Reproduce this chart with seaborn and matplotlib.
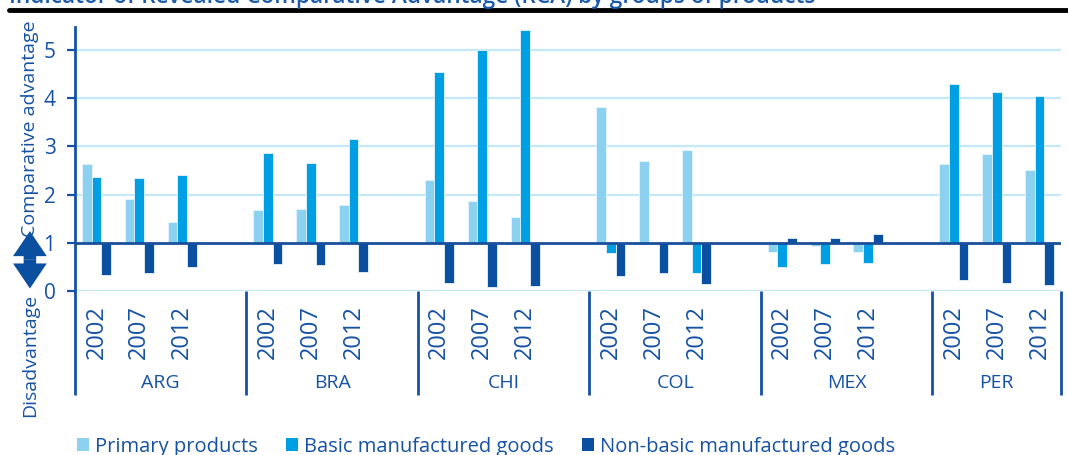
import numpy as np
import pandas as pd
import matplotlib
matplotlib.use("Agg")
import matplotlib.pyplot as plt
import seaborn as sns
from matplotlib.lines import Line2D
from matplotlib.patches import Patch, FancyArrowPatch
from matplotlib.transforms import blended_transform_factory

countries = ["ARG", "BRA", "CHI", "COL", "MEX", "PER"]
years = ["2002", "2007", "2012"]
products = ["Primary products", "Basic manufactured goods", "Non-basic manufactured goods"]

# RCA values, one list per product, ordered country by country, year by year
primary = [2.64, 1.91, 1.44,  1.69, 1.70, 1.78,  2.30, 1.86, 1.54,
           3.82, 2.70, 2.92,  0.81, 0.94, 0.80,  2.64, 2.84, 2.52]
basic = [2.36, 2.34, 2.40,  2.86, 2.66, 3.15,  4.54, 5.00, 5.41,
         0.78, 1.00, 0.38,  0.49, 0.56, 0.58,  4.30, 4.13, 4.04]
nonbasic = [0.34, 0.38, 0.49,  0.56, 0.54, 0.40,  0.16, 0.09, 0.11,
            0.31, 0.38, 0.15,  1.11, 1.11, 1.19,  0.22, 0.16, 0.13]

colors = ["#8dd1f1", "#009fe3", "#0a4fa0"]
blue = "#1652a3"

title = "Indicator of Revealed Comparative Advantage (RCA) by groups of products"

# long table; bars start at the neutral value 1
rows = []
for series, vals in zip(products, [primary, basic, nonbasic]):
    k = 0
    for c in countries:
        for y in years:
            rows.append({"slot": f"{c} {y}", "product": series, "rca": vals[k]})
            k += 1
df = pd.DataFrame(rows)
df["rel"] = df["rca"] - 1

# category order with one empty slot after each country (except the last)
order = []
for i, c in enumerate(countries):
    order += [f"{c} {y}" for y in years]
    if i < len(countries) - 1:
        order.append(" " * (i + 1))

sns.set_theme(style="white")
plt.rcParams["font.family"] = ["Open Sans", "DejaVu Sans"]

fig = plt.figure(figsize=(10.68, 4.55), dpi=100)
ax = fig.add_axes([0.0702, 0.3604, 0.9232, 0.5802])

sns.barplot(data=df, x="slot", y="rel", hue="product", order=order,
            hue_order=products, palette=colors, width=0.68, bottom=1,
            saturation=1, linewidth=0.6, edgecolor="#e6f5fc", legend=False, ax=ax)

ax.set_ylim(0, 5.48)
ax.set_xlim(-0.5, len(order) - 0.5)
ax.set_yticks(range(6))
ax.set_yticklabels([str(v) for v in range(6)])
for v in [0, 2, 3, 4, 5]:
    ax.axhline(v, color="#c4e8f8", lw=1.6, zorder=0)
ax.axhline(1, color="#1a4f9c", lw=2.0, zorder=3)

ax.set_xticks(range(len(order)))
ax.set_xticklabels([s.split(" ")[1] if s.strip() else "" for s in order],
                   rotation=90, fontsize=17, color=blue)
ax.tick_params(axis="x", length=0, pad=10)
ax.tick_params(axis="y", length=6, width=1.6, color=blue, pad=8,
               labelsize=15, labelcolor=blue, direction="out", left=True)
ax.set_xlabel("")
ax.set_ylabel("")

for s in ["top", "right", "bottom"]:
    ax.spines[s].set_visible(False)
ax.spines["left"].set_color(blue)
ax.spines["left"].set_linewidth(2)

# country separators and labels below the axis
tr = blended_transform_factory(ax.transData, ax.transAxes)
for xs in [-0.5, 3.5, 7.5, 11.5, 15.5, 19.5, 22.5]:
    ax.plot([xs, xs], [0, -0.395], transform=tr, color=blue, lw=2,
            clip_on=False, solid_capstyle="butt")
for i, c in enumerate(countries):
    ax.text(1.5 + 4 * i if i < 5 else 21, -0.35, c, transform=tr,
            ha="center", va="center", fontsize=14, color=blue)

# side labels with a double arrow
fig.text(0.028, 0.716, "Comparative advantage", rotation=90, ha="center",
         va="center", fontsize=14, color=blue)
fig.text(0.028, 0.218, "Disadvantage", rotation=90, ha="center",
         va="center", fontsize=14, color=blue)
for end in [0.492, 0.366]:
    fig.add_artist(FancyArrowPatch(
        (0.028, 0.429), (0.028, end), transform=fig.transFigure,
        arrowstyle="simple,head_width=1.35,head_length=1.0,tail_width=0.5",
        mutation_scale=18, color="#0a4fa0", lw=0, shrinkA=0, shrinkB=0))

# title (cut at the top) and rule
fig.text(0.008, 1.006, title, ha="left", va="center", fontsize=16.3,
         fontweight="semibold", color="#1a5aa8")
fig.add_artist(Line2D([0.008, 1.0], [0.978, 0.978], transform=fig.transFigure,
                      color="black", lw=3.5))

handles = [Patch(facecolor=c, edgecolor="none") for c in colors]
leg = fig.legend(handles, products, loc="center left",
                 bbox_to_anchor=(0.055, 0.018), ncol=3, frameon=False,
                 fontsize=14.5, handlelength=0.6, handleheight=0.6,
                 handletextpad=0.3, columnspacing=1.4)
for t in leg.get_texts():
    t.set_color(blue)

fig.savefig("out.png", dpi=100)
